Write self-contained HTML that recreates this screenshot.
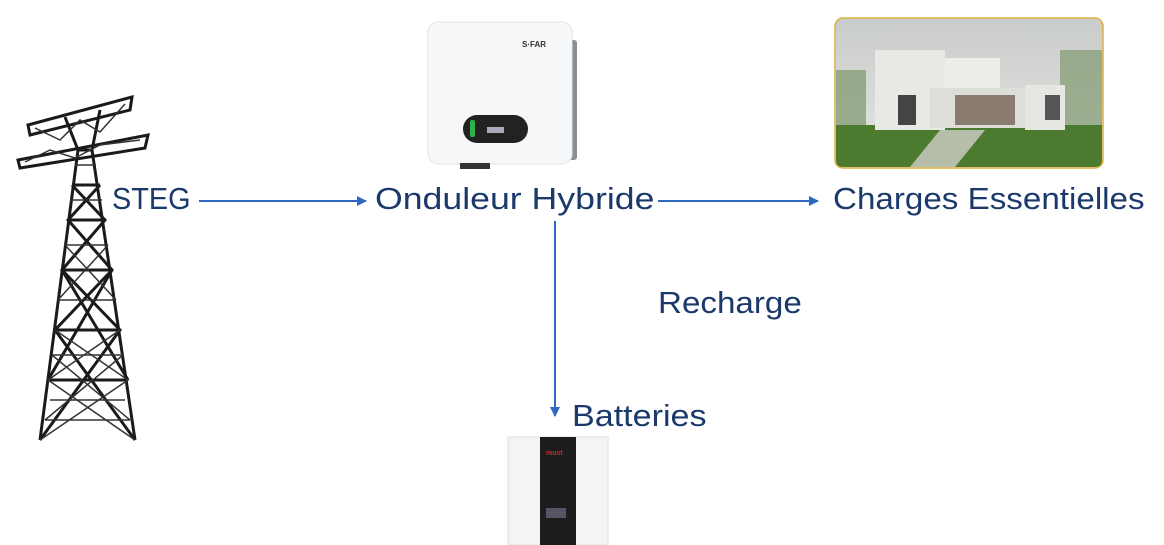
<!DOCTYPE html>
<html><head><meta charset="utf-8"><style>
html,body{margin:0;padding:0;background:#fff;width:1164px;height:545px;overflow:hidden;position:relative}
.t{position:absolute;font-family:"Liberation Sans",sans-serif;font-size:31px;color:#1b3a6b;white-space:nowrap;line-height:1;transform-origin:0 0}
</style></head><body>
<svg width="1164" height="545" style="position:absolute;left:0;top:0">
<defs>
<marker id="a" markerWidth="10" markerHeight="10" refX="9" refY="5" orient="auto" markerUnits="userSpaceOnUse"><path d="M0,0 L10,5 L0,10 z" fill="#2f68c0"/></marker>
<linearGradient id="sky" x1="0" y1="0" x2="0" y2="1"><stop offset="0" stop-color="#c9ccca"/><stop offset="1" stop-color="#e4e6e2"/></linearGradient>
</defs>
<g stroke="#1a1a1a" stroke-width="3" fill="none">
<path d="M40,440 L78,150 L92,150 L135,440"/>
<path d="M55,330 L120,330 M62,270 L112,270 M68,220 L105,220 M72,185 L100,185"/>
<path d="M40,440 L120,330 L62,270 L105,220 L72,185 M135,440 L55,330 L112,270 L68,220 L100,185"/>
<path d="M48,380 L128,380 M48,380 L112,270 M128,380 L62,270"/>
<path d="M28,125 L132,97 L130,110 L30,135 z M18,160 L148,135 L145,148 L20,168 z"/>
<path d="M78,150 L65,117 M92,150 L100,110"/>
</g>
<g stroke="#333" stroke-width="1.5" fill="none">
<path d="M45,420 L130,420 M50,400 L125,400 M52,355 L123,355 M58,300 L116,300 M65,245 L108,245 M70,200 L102,200 M75,165 L96,165"/>
<path d="M40,440 L128,380 L55,330 M135,440 L48,380 L120,330 M45,420 L123,355 M130,420 L52,355 M58,300 L108,245 M116,300 L65,245"/>
<path d="M35,128 L60,140 L80,120 L100,132 L125,104 M25,162 L50,150 L75,158 L100,145 L140,140"/>
</g>
<rect x="560" y="40" width="17" height="120" rx="3" fill="#8a8f96"/>
<rect x="428" y="22" width="144" height="142" rx="10" fill="#f6f7f8" stroke="#e2e4e6"/>
<rect x="463" y="115" width="65" height="28" rx="14" fill="#222"/>
<rect x="470" y="120" width="5" height="17" rx="2" fill="#2fb04a"/>
<rect x="487" y="127" width="17" height="6" fill="#aab"/>
<text x="522" y="47" font-family="Liberation Sans" font-size="8" font-weight="bold" fill="#333">S·FAR</text>
<rect x="460" y="163" width="30" height="6" fill="#333"/>
<rect x="835" y="18" width="268" height="150" rx="8" fill="url(#sky)" stroke="#e0b040" stroke-width="1.5"/>
<path d="M836,125 L1102,125 L1102,160 Q1102,167 1095,167 L843,167 Q836,167 836,160 z" fill="#4c7a2e"/>
<rect x="836" y="70" width="30" height="55" fill="#6c8a5a" opacity="0.6"/>
<rect x="1060" y="50" width="42" height="75" fill="#71905e" opacity="0.6"/>
<rect x="875" y="50" width="70" height="80" fill="#e8e8e4"/>
<rect x="945" y="58" width="55" height="30" fill="#ecece8"/>
<rect x="930" y="88" width="120" height="40" fill="#deded8"/>
<rect x="1025" y="85" width="40" height="45" fill="#e6e6e2"/>
<rect x="898" y="95" width="18" height="30" fill="#444"/>
<rect x="955" y="95" width="60" height="30" fill="#8a7b70"/>
<rect x="1045" y="95" width="15" height="25" fill="#555"/>
<path d="M940,130 L985,130 L955,167 L910,167 z" fill="#cfcfc8" opacity="0.8"/>
<rect x="508" y="437" width="100" height="108" fill="#f4f4f4" stroke="#ddd"/>
<rect x="540" y="437" width="36" height="108" fill="#1c1c1c"/>
<text x="546" y="455" font-family="Liberation Sans" font-size="7" font-weight="bold" fill="#d22">must</text>
<rect x="546" y="508" width="20" height="10" fill="#556"/>
<g stroke="#2f68c0" stroke-width="2" fill="none">
<line x1="199" y1="201" x2="366" y2="201" marker-end="url(#a)"/>
<line x1="658" y1="201" x2="818" y2="201" marker-end="url(#a)"/>
<line x1="555" y1="221" x2="555" y2="416" marker-end="url(#a)"/>
</g>
</svg>
<div class="t" style="left:112px;top:183px;transform:scaleX(0.93)">STEG</div>
<div class="t" style="left:375px;top:183px;transform:scaleX(1.15)">Onduleur Hybride</div>
<div class="t" style="left:833px;top:183px;transform:scaleX(1.07)">Charges Essentielles</div>
<div class="t" style="left:658px;top:287px;transform:scaleX(1.07)">Recharge</div>
<div class="t" style="left:572px;top:400px;transform:scaleX(1.1)">Batteries</div>
</body></html>
